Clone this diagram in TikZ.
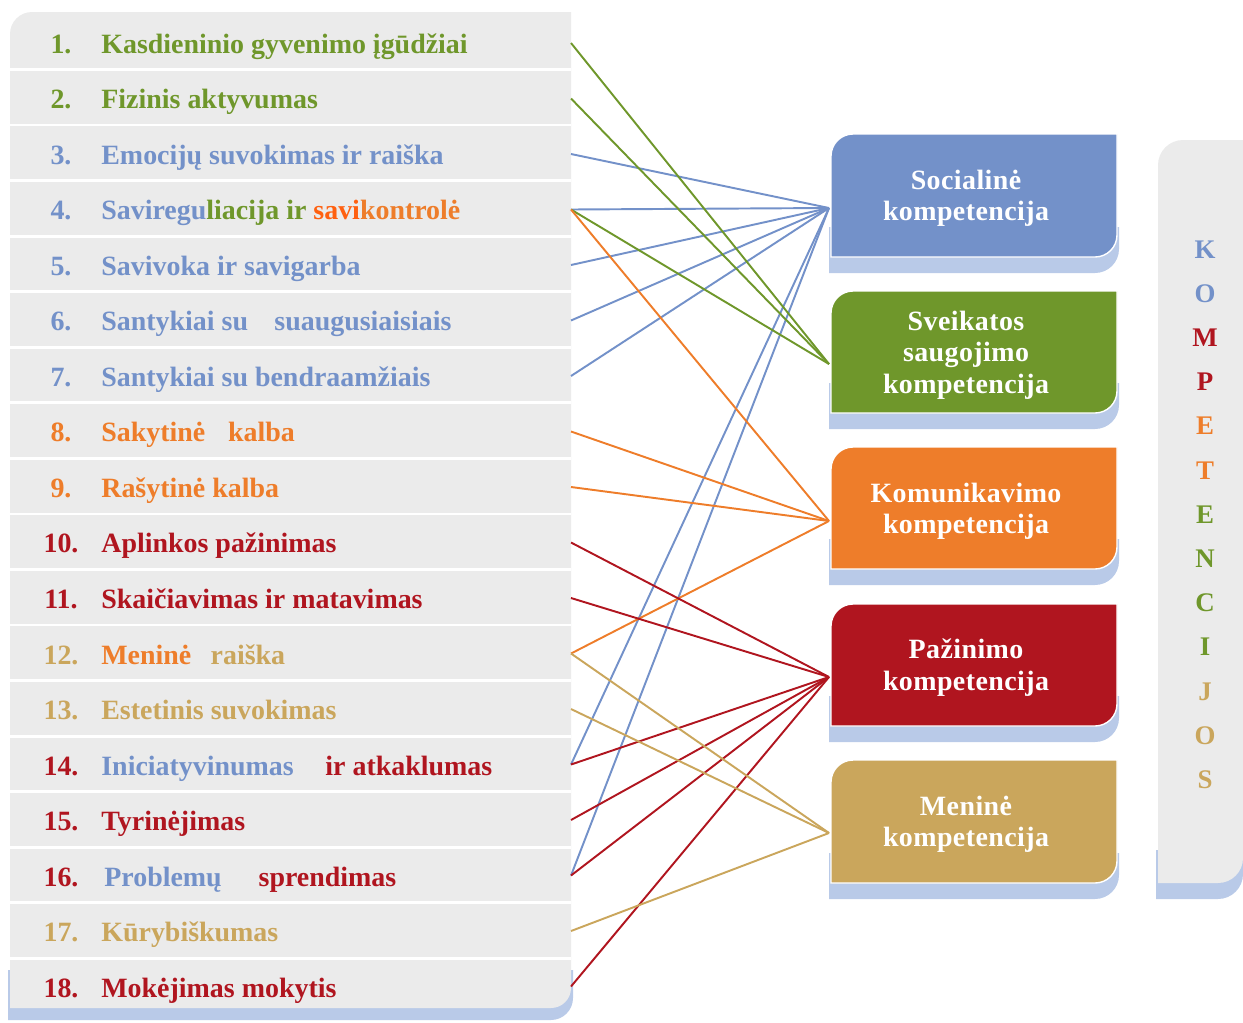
\documentclass[tikz,border=0pt]{standalone}
\usepackage{fontspec}
\setmainfont{Liberation Serif}
\definecolor{cblue}{HTML}{7391C9}
\definecolor{cgreen}{HTML}{6F972B}
\definecolor{corange}{HTML}{EE7D2A}
\definecolor{cbright}{HTML}{FF6010}
\definecolor{cred}{HTML}{B0151F}
\definecolor{ctan}{HTML}{CAA65C}
\definecolor{cshadow}{HTML}{B9CAE8}
\definecolor{cgray}{HTML}{EBEBEB}
\newcommand\ft{\fontsize{15.9}{19}\selectfont\bfseries}
\newcommand\rrfill[7]{\path[#1] (#2,#5) -- (#2,#3+#6) arc (180:270:#6) -- (#4,#3) -- (#4,#5-#7) arc (0:90:#7) -- cycle;}
\tikzset{
  num/.style={anchor=base, font=\ft, inner sep=0pt},
  item/.style={anchor=base west, font=\ft, inner sep=0pt},
  btxt/.style={anchor=base, font=\ft\addfontfeatures{LetterSpace=1.5}, text=white, inner sep=0pt},
  klet/.style={anchor=base, font=\fontsize{15.3}{18}\selectfont\bfseries, inner sep=0pt},
  conn/.style={line width=1.1pt},
  sep/.style={white, line width=1.6pt}
}
\begin{document}
\begin{tikzpicture}[x=0.02cm, y=-0.02cm]
\useasboundingbox (0,0) rectangle (1243,1022);
% left panel
\rrfill{fill=cshadow}{8}{970}{573}{1020}{0.1}{22}
\rrfill{fill=cgray}{10}{12}{571}{1008}{22}{20}
\foreach \k in {1,...,17} \draw[sep] (10,{69.5+55.55*(\k-1)}) -- (571,{69.5+55.55*(\k-1)});
% right panel
\rrfill{fill=cshadow}{1156}{850}{1243}{899}{0.1}{25}
\rrfill{fill=cgray}{1158}{140}{1243}{883}{25}{25}
% numbers
\node[num, text=cgreen] (n1) at (61,{53+55.55*0}) {1.};
\node[num, text=cgreen] (n2) at (61,{53+55.55*1}) {2.};
\node[num, text=cblue] (n3) at (61,{53+55.55*2}) {3.};
\node[num, text=cblue] (n4) at (61,{53+55.55*3}) {4.};
\node[num, text=cblue] (n5) at (61,{53+55.55*4}) {5.};
\node[num, text=cblue] (n6) at (61,{53+55.55*5}) {6.};
\node[num, text=cblue] (n7) at (61,{53+55.55*6}) {7.};
\node[num, text=corange] (n8) at (61,{53+55.55*7}) {8.};
\node[num, text=corange] (n9) at (61,{53+55.55*8}) {9.};
\node[num, text=cred] (n10) at (61,{53+55.55*9}) {10.};
\node[num, text=cred] (n11) at (61,{53+55.55*10}) {11.};
\node[num, text=ctan] (n12) at (61,{53+55.55*11}) {12.};
\node[num, text=ctan] (n13) at (61,{53+55.55*12}) {13.};
\node[num, text=cred] (n14) at (61,{53+55.55*13}) {14.};
\node[num, text=cred] (n15) at (61,{53+55.55*14}) {15.};
\node[num, text=cred] (n16) at (61,{53+55.55*15}) {16.};
\node[num, text=ctan] (n17) at (61,{53+55.55*16}) {17.};
\node[num, text=cred] (n18) at (61,{53+55.55*17}) {18.};
% items
\node[item, text=cgreen] (t1) at (101,{53+55.55*0}) {Kasdieninio gyvenimo įgūdžiai};
\node[item, text=cgreen] (t2) at (101,{53+55.55*1}) {Fizinis aktyvumas};
\node[item, text=cblue] (t3) at (101,{53+55.55*2}) {Emocijų suvokimas ir raiška};
\node[item] (t4) at (101,{53+55.55*3}) {{\color{cblue}Saviregu}{\color{cgreen}liacija ir }{\color{cbright}savi}{\color{corange}kontrolė}};
\node[item, text=cblue] (t5) at (101,{53+55.55*4}) {Savivoka ir savigarba};
\node[item, text=cblue] (t6) at (101,{53+55.55*5}) {Santykiai su\hspace{15pt}suaugusiaisiais};
\node[item, text=cblue] (t7) at (101,{53+55.55*6}) {Santykiai su bendraamžiais};
\node[item, text=corange] (t8) at (101,{53+55.55*7}) {Sakytinė\hspace{13pt}kalba};
\node[item, text=corange] (t9) at (101,{53+55.55*8}) {Rašytinė kalba};
\node[item, text=cred] (t10) at (101,{53+55.55*9}) {Aplinkos pažinimas};
\node[item, text=cred] (t11) at (101,{53+55.55*10}) {Skaičiavimas ir matavimas};
\node[item] (t12) at (101,{53+55.55*11}) {{\color{corange}Meninė}\hspace{11pt}{\color{ctan}raiška}};
\node[item, text=ctan] (t13) at (101,{53+55.55*12}) {Estetinis suvokimas};
\node[item, text=cred] (t14) at (101,{53+55.55*13}) {{\color{cblue}Iniciatyvinumas}\hspace{18pt}ir atkaklumas};
\node[item, text=cred] (t15) at (101,{53+55.55*14}) {Tyrinėjimas};
\node[item, text=cred] (t16) at (101,{53+55.55*15}) {\hspace{1.7pt}{\color{cblue}Problemų}\hspace{21pt}sprendimas};
\node[item, text=ctan] (t17) at (101,{53+55.55*16}) {Kūrybiškumas};
\node[item, text=cred] (t18) at (101,{53+55.55*17}) {Mokėjimas mokytis};
% connector ends
\foreach \i in {1,...,18} \coordinate (r\i) at (571,{43+55.5*(\i-1)});
\coordinate (soc) at (829,208);
\coordinate (hea) at (829,364);
\coordinate (kom) at (829,521);
\coordinate (paz) at (829,677);
\coordinate (men) at (829,833);
% connectors
\foreach \i in {3,4,5,6,7,14,16} \draw[conn, cblue] (r\i) -- (soc);
\foreach \i in {1,2,4} \draw[conn, cgreen] (r\i) -- (hea);
\foreach \i in {4,8,9,12} \draw[conn, corange] (r\i) -- (kom);
\foreach \i in {10,11,14,15,16,18} \draw[conn, cred] (r\i) -- (paz);
\foreach \i in {12,13,17} \draw[conn, ctan] (r\i) -- (men);
% boxes
\foreach \t/\b/\c in {134/257/cblue, 291/413/cgreen, 447/569/corange, 604/726/cred, 760/883/ctan}{
  \rrfill{fill=cshadow}{829}{\b-30}{1119}{\b+16}{0.1}{24}
  \rrfill{fill=\c, draw=white, line width=0.8pt}{831}{\t}{1117}{\b}{22}{22}
}
\node[btxt] (b1a) at (966,189) {Socialinė};
\node[btxt] (b1b) at (966,220) {kompetencija};
\node[btxt] (b2a) at (966,330) {Sveikatos};
\node[btxt] (b2b) at (966,361) {saugojimo};
\node[btxt] (b2c) at (966,393) {kompetencija};
\node[btxt] (b3a) at (966,502) {Komunikavimo};
\node[btxt] (b3b) at (966,533) {kompetencija};
\node[btxt] (b4a) at (966,658) {Pažinimo};
\node[btxt] (b4b) at (966,690) {kompetencija};
\node[btxt] (b5a) at (966,815) {Meninė};
\node[btxt] (b5b) at (966,846) {kompetencija};
% KOMPETENCIJOS
\foreach \l/\c [count=\j from 0] in {K/cblue,O/cblue,M/cred,P/cred,E/corange,T/corange,E/cgreen,N/cgreen,C/cgreen,I/cgreen,J/ctan,O/ctan,S/ctan}
  \node[klet, text=\c] (k\j) at (1205,{258+44.2*\j}) {\l};
\end{tikzpicture}
\end{document}
